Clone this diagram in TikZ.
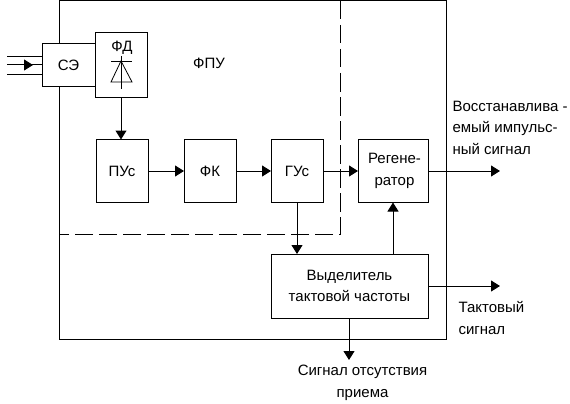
\documentclass[tikz,border=0pt]{standalone}
\usepackage{fontspec}
\setmainfont{Liberation Sans}
\usetikzlibrary{arrows.meta}

\begin{document}
\begin{tikzpicture}[x=1pt, y=-1pt, auto, line width=1pt, font=\fontsize{15}{21.5}\selectfont,
	    block/.style={rectangle, draw=black, fill=white, align=center, inner sep=0pt, outer sep=0pt, minimum width=52pt, minimum height=63pt},
	    line/.style={draw=black, -{Triangle[length=9pt,width=11pt]}},
	    wire/.style={draw=black},
	    caption/.style={inner sep=0pt, align=left}]
	    \useasboundingbox (0,0) rectangle (570,404);
	    
	    % blocks
	    \node [block, minimum width=53pt, minimum height=42pt] (se) at (68.5,65) {СЭ};
	    \node [block, minimum height=64pt] (fd) at (121,65) {};
	    \node [block] (pus) at (122,171) {ПУс};
	    \node [block, right of=pus, node distance=88pt] (fk) {ФК};
	    \node [block, right of=fk, node distance=87pt] (gus) {ГУс};
	    \node [block, right of=gus, node distance=96pt, minimum width=70pt] (reg) {\hspace{3pt}Регене-\\\hspace{3pt}ратор};
	    \node [block, minimum width=157pt, minimum height=64pt] (vyd) at (349.5,286) {Выделитель\\тактовой частоты};
	    
	    % frame of the unit
	    \coordinate (frameA) at (59,44);
	    \coordinate (frameB) at (59,1);
	    \coordinate (frameC) at (446,1);
	    \coordinate (frameD) at (446,339);
	    \coordinate (frameE) at (59,339);
	    \coordinate (frameF) at (59,86);
	    \path [wire] (frameA) -- (frameB) -- (frameC) -- (frameD) -- (frameE) -- (frameF);
	    \coordinate (dashA) at (340,1);
	    \coordinate (dashB) at (340,234);
	    \coordinate (dashC) at (59,234);
	    \path [wire, dash pattern=on 18.5pt off 5.5pt] (dashA) -- (dashB) -- (dashC);
	    
	    % photodiode
	    \coordinate (diodeTop) at (121,56);
	    \coordinate (diodeApex) at (121,61);
	    \coordinate (diodeEnd) at (121,89);
	    \coordinate (barL) at (111,61);
	    \coordinate (barR) at (132,61);
	    \coordinate (baseL) at (111,82);
	    \coordinate (baseR) at (132,82);
	    \node [inner sep=0pt] (fdlabel) at (122,48) {ФД};
	    \path [wire, line width=.8pt] (diodeTop) -- (diodeEnd);
	    \path [wire, line width=.8pt] (barL) -- (barR);
	    \path [wire, line width=.8pt] (diodeApex) -- (baseL) -- (baseR) -- cycle;
	    
	    % light input
	    \coordinate (inA) at (7,57);
	    \coordinate (inB) at (7,65);
	    \coordinate (inC) at (7,74);
	    \coordinate (inTip) at (33,65);
	    \path [wire] (inA) -- (inA -| se.west);
	    \path [wire] (inC) -- (inC -| se.west);
	    \path [wire] (inB) -- (se.west);
	    \path [line] (inB) -- (inTip);
	    
	    % signal path
	    \path [line] (fd.south -| diodeEnd) -- (pus.north -| diodeEnd);
	    \path [line] (pus) -- (fk);
	    \path [line] (fk) -- (gus);
	    \path [line] (gus) -- (reg);
	    \coordinate (outReg) at (500,171);
	    \coordinate (outClk) at (500,286);
	    \coordinate (outLoss) at (349,360);
	    \path [line] (reg) -- (outReg);
	    \path [line] (vyd) -- (outClk);
	    \path [line] (vyd.south -| outLoss) -- (outLoss);
	    \path [line] (gus.south) -- (vyd.north -| gus.south);
	    \path [line] (vyd.north -| reg.south) -- (reg.south);
	    
	    % captions
	    \node [caption] (fpu) at (209,63) {ФПУ};
	    \node [caption, anchor=north west] (outlabel) at (452,100.5) {Восстанавлива -\\емый импульс-\\ный сигнал};
	    \node [caption, anchor=north west] (clklabel) at (458,301) {Тактовый\\сигнал};
	    \node [caption, anchor=north, align=center] (losslabel) at (362.5,365) {Сигнал отсутствия\\приема};
	\end{tikzpicture}
\end{document}
